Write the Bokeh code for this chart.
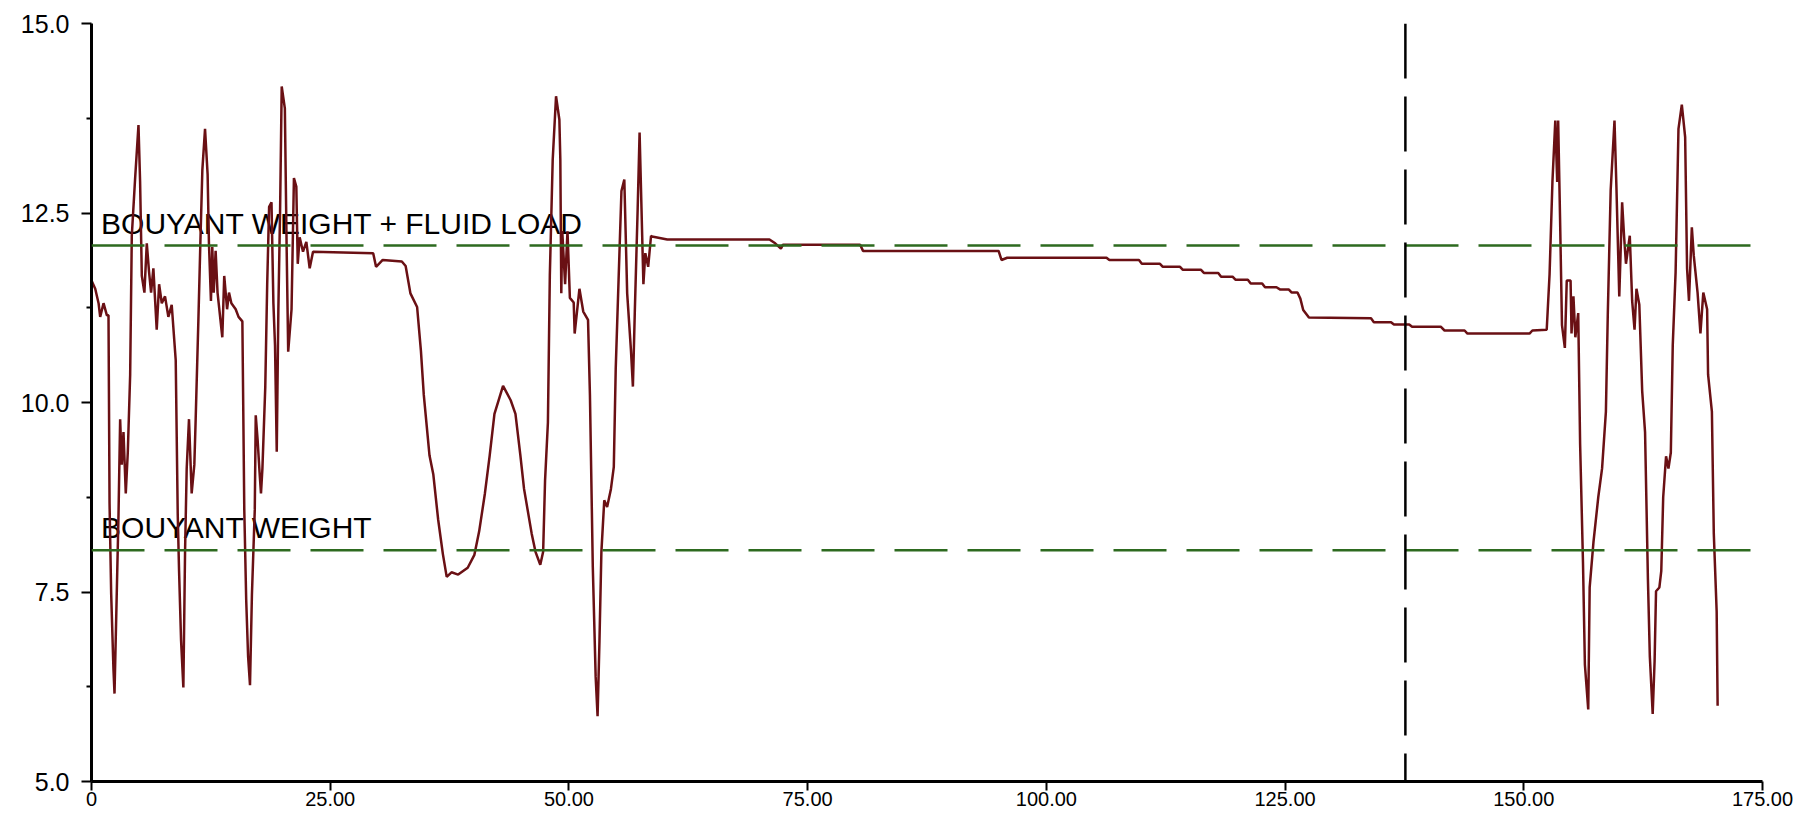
from bokeh.plotting import figure
from bokeh.models import Range1d, FixedTicker, Span, Label, PrintfTickFormatter, ColumnDataSource
from bokeh.embed import file_html
from bokeh.resources import INLINE

# ---------------- data ----------------
depth = [
    0.00, 0.39, 0.74, 0.91, 1.26, 1.61, 1.78, 1.89, 2.06, 2.30, 2.41, 2.65, 2.83, 3.00, 3.17, 3.35,
    3.59, 3.80, 4.05, 4.22, 4.57, 4.92, 5.09, 5.27, 5.54, 5.79, 6.03, 6.24, 6.48, 6.83, 7.08, 7.36,
    7.70, 8.05, 8.40, 8.82, 9.03, 9.17, 9.38, 9.62, 9.80, 9.97, 10.21, 10.49, 10.77, 10.91, 11.19,
    11.40, 11.61, 11.89, 12.16, 12.30, 12.51, 12.65, 12.80, 13.00, 13.20, 13.70, 13.90, 14.20, 14.40,
    14.65, 15.10, 15.40, 15.80, 16.00, 16.20, 16.40, 16.60, 16.80, 17.10, 17.20, 17.40, 17.60, 17.75,
    17.90, 18.20, 18.40, 18.60, 18.85, 19.05, 19.22, 19.40, 19.57, 19.75, 19.92, 20.25, 20.43, 20.60,
    20.95, 21.20, 21.45, 21.60, 21.80, 22.15, 22.50, 22.85, 23.20, 29.50, 29.80, 30.50, 32.50, 32.90,
    33.40, 34.10, 34.50, 34.80, 35.40, 35.80, 36.30, 36.80, 37.20, 37.70, 38.40, 39.40, 40.10, 40.60,
    41.20, 41.70, 42.20, 43.10, 43.90, 44.40, 44.90, 45.30, 46.10, 46.50, 47.00, 47.30, 47.50, 47.80,
    48.00, 48.30, 48.65, 49.00, 49.10, 49.20, 49.30, 49.60, 49.85, 50.10, 50.50, 50.60, 51.10, 51.50,
    52.00, 52.20, 52.50, 52.80, 53.00, 53.20, 53.40, 53.70, 54.00, 54.40, 54.70, 54.90, 55.20, 55.50,
    55.80, 56.10, 56.50, 56.70, 56.90, 57.20, 57.40, 57.60, 57.80, 58.00, 58.30, 58.60, 58.70, 60.30,
    71.00, 71.60, 72.20, 72.40, 80.50, 80.80, 95.00, 95.30, 95.90, 106.30, 106.60, 109.70, 110.00,
    111.90, 112.20, 114.00, 114.30, 116.20, 116.50, 118.00, 118.30, 119.50, 119.80, 121.10, 121.40,
    122.60, 122.90, 124.10, 124.50, 125.40, 125.70, 126.30, 126.60, 126.90, 127.50, 134.00, 134.30,
    136.10, 136.40, 138.00, 138.30, 141.30, 141.70, 143.80, 144.10, 150.60, 150.90, 152.40, 152.50,
    152.70, 153.00, 153.30, 153.50, 153.60, 153.80, 154.00, 154.30, 154.50, 154.90, 155.00, 155.20,
    155.40, 155.70, 155.90, 156.20, 156.40, 156.75, 156.90, 157.30, 157.80, 158.20, 158.60, 158.80,
    159.10, 159.50, 159.70, 160.00, 160.30, 160.50, 160.70, 161.10, 161.35, 161.60, 161.80, 162.10,
    162.40, 162.70, 163.00, 163.20, 163.50, 163.70, 163.85, 164.20, 164.40, 164.60, 164.90, 165.15,
    165.40, 165.60, 165.90, 166.20, 166.55, 166.90, 167.10, 167.30, 167.60, 167.80, 168.20, 168.50,
    168.80, 169.20, 169.30, 169.70, 169.90, 170.20, 170.30,
]
hook_load = [
    11.61, 11.50, 11.31, 11.13, 11.31, 11.15, 11.15, 8.67, 7.48, 6.48, 6.16, 7.51, 8.53, 9.78, 9.18, 9.61,
    8.80, 9.34, 10.37, 12.20, 12.96, 13.66, 12.91, 11.67, 11.45, 12.10, 11.72, 11.45, 11.77, 10.96, 11.56, 11.31,
    11.40, 11.13, 11.29, 10.56, 8.53, 7.78, 6.86, 6.24, 8.05, 9.13, 9.78, 8.80, 9.18, 9.78, 11.07,
    12.10, 13.07, 13.61, 13.01, 12.10, 11.34, 12.05, 11.45, 12.00, 11.45, 10.86, 11.67, 11.23, 11.45,
    11.31, 11.23, 11.13, 11.07, 8.59, 7.40, 6.65, 6.27, 7.46, 8.59, 9.83, 9.50, 9.08, 8.80,
    9.13, 10.21, 11.56, 12.58, 12.64, 11.31, 10.75, 9.35, 11.23, 12.53, 14.17, 13.88, 12.10, 10.67,
    11.23, 12.96, 12.85, 11.83, 12.18, 11.99, 12.12, 11.77, 11.99, 11.97, 11.79, 11.88, 11.86, 11.80,
    11.44, 11.26, 10.68, 10.10, 9.30, 9.05, 8.46, 8.00, 7.70, 7.76, 7.73, 7.82, 7.99, 8.30,
    8.80, 9.30, 9.85, 10.22, 10.03, 9.85, 9.32, 8.86, 8.27, 8.03, 7.86, 8.03, 8.97, 9.74,
    11.68, 13.20, 14.04, 13.73, 13.20, 11.44, 12.26, 11.56, 12.26, 11.38, 11.32, 10.91, 11.50, 11.20,
    11.09, 10.10, 7.83, 6.38, 5.86, 6.86, 8.03, 8.71, 8.62, 8.86, 9.15, 10.44, 11.62, 12.79,
    12.94, 11.44, 10.68, 10.21, 11.20, 12.56, 13.56, 12.56, 11.56, 11.97, 11.79, 12.20, 12.19, 12.15,
    12.15, 12.10, 12.03, 12.08, 12.08, 12.00, 12.00, 11.88, 11.91, 11.91, 11.88, 11.88, 11.83,
    11.83, 11.79, 11.79, 11.75, 11.75, 11.71, 11.71, 11.66, 11.66, 11.62, 11.62, 11.57,
    11.57, 11.52, 11.52, 11.49, 11.49, 11.45, 11.45, 11.37, 11.22, 11.12, 11.11, 11.06,
    11.06, 11.03, 11.03, 11.00, 11.00, 10.95, 10.95, 10.91, 10.91, 10.95, 10.96, 11.20,
    11.69, 12.91, 13.72, 12.91, 13.72, 12.42, 11.02, 10.72, 11.61, 11.61, 10.91, 11.40,
    10.86, 11.18, 9.45, 7.89, 6.54, 5.95, 7.56, 8.16, 8.75, 9.13, 9.88, 11.18,
    12.80, 13.72, 12.85, 11.40, 12.64, 12.20, 11.83, 12.20, 11.34, 10.96, 11.50, 11.29,
    10.15, 9.61, 7.67, 6.65, 5.89, 6.59, 7.51, 7.56, 7.78, 8.75, 9.29, 9.13,
    9.34, 10.75, 11.72, 13.61, 13.93, 13.50, 11.77, 11.34, 12.31, 11.94, 11.45, 10.91,
    11.45, 11.23, 10.37, 9.88, 8.27, 7.24, 6.00,
]

level_labels = ["BOUYANT WEIGHT + FLUID LOAD", "BOUYANT WEIGHT"]
level_values = [12.07, 8.05]
marker_depth = 137.6

x_ticks = [0, 25, 50, 75, 100, 125, 150, 175]
x_tick_labels = ["0", "25.00", "50.00", "75.00", "100.00", "125.00", "150.00", "175.00"]
y_ticks = [5.0, 7.5, 10.0, 12.5, 15.0]
y_minor_ticks = [6.25, 8.75, 11.25, 13.75]

# ---------------- figure ----------------
p = figure(
    width=1800, height=817,
    x_range=Range1d(0, 175), y_range=Range1d(5, 15),
    output_backend="svg", toolbar_location=None,
    min_border_left=91, min_border_right=38, min_border_top=23, min_border_bottom=36,
)
p.outline_line_color = None
p.grid.visible = False
p.background_fill_color = "white"
p.border_fill_color = "white"

# axes
p.xaxis.ticker = FixedTicker(ticks=x_ticks, minor_ticks=[])
p.xaxis.major_label_overrides = {t: lab for t, lab in zip(x_ticks, x_tick_labels)}
p.yaxis.ticker = FixedTicker(ticks=y_ticks, minor_ticks=y_minor_ticks)
p.yaxis.formatter = PrintfTickFormatter(format="%.1f")

for ax in (p.xaxis, p.yaxis):
    ax.axis_line_width = 3
    ax.axis_line_color = "black"
    ax.major_tick_line_width = 2
    ax.major_tick_line_color = "black"
    ax.minor_tick_line_width = 2
    ax.minor_tick_line_color = "black"
    ax.major_tick_in = 0
    ax.minor_tick_in = 0
    ax.major_label_text_font = "Liberation Sans"
    ax.major_label_text_color = "black"

p.xaxis.major_tick_out = 9
p.xaxis.major_label_standoff = 1
p.xaxis.major_label_text_font_size = "20px"
p.yaxis.major_tick_out = 10
p.yaxis.minor_tick_out = 5
p.yaxis.major_label_standoff = 12
p.yaxis.major_label_text_font_size = "25px"

# level labels (under the curve)
for lab, lv in zip(level_labels, level_values):
    p.add_layout(Label(x=1.0, y=lv, y_offset=6, text=lab, text_font="Liberation Sans",
                       text_font_size="30px", text_color="black", text_baseline="bottom",
                       level="underlay"))

# hook load curve
src = ColumnDataSource(dict(depth=depth, load=hook_load))
p.line("depth", "load", source=src, line_color="#6a1014", line_width=2.5)

# reference level lines
for lv in level_values:
    p.add_layout(Span(location=lv, dimension="width", line_color="#2d6a1f",
                      line_width=2.5, line_dash="53 20"))

# marker vertical line
p.add_layout(Span(location=marker_depth, dimension="height", line_color="black",
                  line_width=2.5, line_dash="55 18"))

open("out.html", "w").write(file_html(p, INLINE))
